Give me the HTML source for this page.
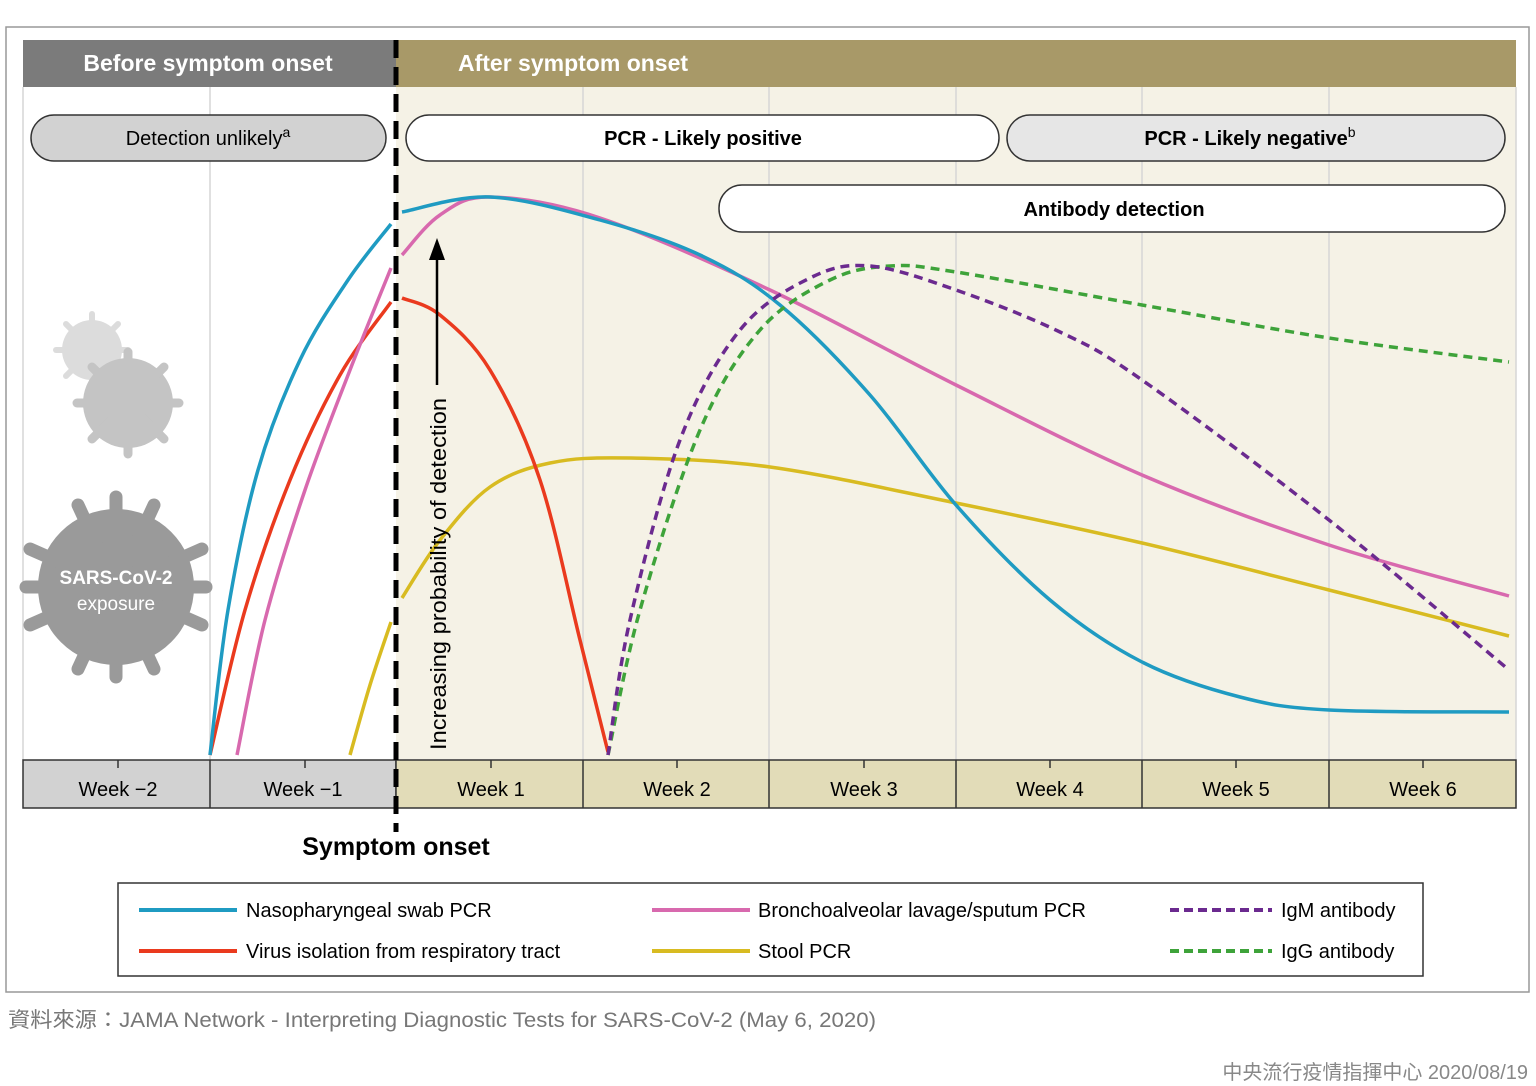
<!DOCTYPE html>
<html><head><meta charset="utf-8"><style>
body{margin:0;background:#fff;width:1536px;height:1086px;overflow:hidden}
svg{display:block}
text{font-family:"Liberation Sans","Noto Sans CJK TC",sans-serif}
</style></head><body>
<svg id="s" width="1536" height="1086" viewBox="0 0 1536 1086" xmlns="http://www.w3.org/2000/svg">
<rect x="6" y="27" width="1523" height="965" fill="#fff" stroke="#999" stroke-width="1.5"/>
<rect x="23" y="87" width="373" height="673" fill="#fff"/>
<rect x="396" y="87" width="1120" height="673" fill="#f5f2e6"/>
<g stroke="#d6d6d6" stroke-width="1.5">
<line x1="23" y1="87" x2="23" y2="760"/><line x1="210" y1="87" x2="210" y2="760"/>
<line x1="583" y1="87" x2="583" y2="760"/><line x1="769" y1="87" x2="769" y2="760"/>
<line x1="956" y1="87" x2="956" y2="760"/><line x1="1142" y1="87" x2="1142" y2="760"/>
<line x1="1329" y1="87" x2="1329" y2="760"/><line x1="1516" y1="87" x2="1516" y2="760"/>
</g>
<rect x="23" y="40" width="373" height="47" fill="#7b7b7b"/>
<rect x="396" y="40" width="1120" height="47" fill="#a89968"/>
<text x="208" y="71" font-size="23" font-weight="bold" fill="#fff" text-anchor="middle">Before symptom onset</text>
<text x="458" y="71" font-size="23" font-weight="bold" fill="#fff">After symptom onset</text>
<rect x="31" y="115" width="355" height="46" rx="23" fill="#d2d2d2" stroke="#333" stroke-width="1.5"/>
<text x="208" y="145" font-size="20" text-anchor="middle">Detection unlikely<tspan font-size="14" dy="-8">a</tspan></text>
<rect x="406" y="115" width="593" height="46" rx="23" fill="#fff" stroke="#333" stroke-width="1.5"/>
<text x="703" y="145" font-size="20" font-weight="bold" text-anchor="middle">PCR - Likely positive</text>
<rect x="1007" y="115" width="498" height="46" rx="23" fill="#e6e6e6" stroke="#333" stroke-width="1.5"/>
<text x="1250" y="145" font-size="20" font-weight="bold" text-anchor="middle">PCR - Likely negative<tspan font-size="14" font-weight="normal" dy="-8">b</tspan></text>
<rect x="719" y="185" width="786" height="47" rx="23" fill="#fff" stroke="#333" stroke-width="1.5"/>
<text x="1114" y="216" font-size="20" font-weight="bold" text-anchor="middle">Antibody detection</text>
<!-- viruses -->
<g fill="#dcdcdc"><circle cx="92" cy="350" r="30"/>
<g stroke="#dcdcdc" stroke-width="6" stroke-linecap="round"><line x1="92" y1="314" x2="92" y2="386"/><line x1="56" y1="350" x2="128" y2="350"/><line x1="66" y1="324" x2="118" y2="376"/><line x1="66" y1="376" x2="118" y2="324"/></g></g>
<g fill="#c4c4c4"><circle cx="128" cy="403" r="45"/>
<g stroke="#c4c4c4" stroke-width="9" stroke-linecap="round"><line x1="128" y1="352" x2="128" y2="454"/><line x1="77" y1="403" x2="179" y2="403"/><line x1="92" y1="367" x2="164" y2="439"/><line x1="92" y1="439" x2="164" y2="367"/></g></g>
<g fill="#9a9a9a"><circle cx="116" cy="587" r="78"/>
<g stroke="#9a9a9a" stroke-width="13" stroke-linecap="round"><line x1="116" y1="497" x2="116" y2="677"/><line x1="26" y1="587" x2="206" y2="587"/><line x1="78" y1="505" x2="154" y2="669"/><line x1="154" y1="505" x2="78" y2="669"/><line x1="30" y1="549" x2="202" y2="625"/><line x1="30" y1="625" x2="202" y2="549"/></g></g>
<text x="116" y="584" font-size="19" font-weight="bold" fill="#fff" text-anchor="middle">SARS-CoV-2</text>
<text x="116" y="610" font-size="19" fill="#fff" text-anchor="middle">exposure</text>
<g id="curves" fill="none" stroke-width="3.5"></g>
<!-- arrow -->
<line x1="437" y1="385" x2="437" y2="255" stroke="#000" stroke-width="2.5"/>
<polygon points="437,238 429,260 445,260" fill="#000"/>
<text transform="translate(446,750) rotate(-90)" font-size="22" textLength="352" lengthAdjust="spacingAndGlyphs">Increasing probability of detection</text>
<!-- axis -->
<rect x="23" y="760" width="373" height="48" fill="#d2d2d2" stroke="#333" stroke-width="1.5"/>
<rect x="396" y="760" width="1120" height="48" fill="#e2dcb8" stroke="#333" stroke-width="1.5"/>
<g stroke="#333" stroke-width="1.5"><line x1="210" y1="760" x2="210" y2="808"/><line x1="583" y1="760" x2="583" y2="808"/><line x1="769" y1="760" x2="769" y2="808"/><line x1="956" y1="760" x2="956" y2="808"/><line x1="1142" y1="760" x2="1142" y2="808"/><line x1="1329" y1="760" x2="1329" y2="808"/>
<line x1="118" y1="760" x2="118" y2="768"/><line x1="305" y1="760" x2="305" y2="768"/><line x1="491" y1="760" x2="491" y2="768"/><line x1="677" y1="760" x2="677" y2="768"/><line x1="864" y1="760" x2="864" y2="768"/><line x1="1050" y1="760" x2="1050" y2="768"/><line x1="1236" y1="760" x2="1236" y2="768"/><line x1="1423" y1="760" x2="1423" y2="768"/></g>
<g font-size="20" text-anchor="middle">
<text x="118" y="796">Week −2</text><text x="303" y="796">Week −1</text><text x="491" y="796">Week 1</text><text x="677" y="796">Week 2</text><text x="864" y="796">Week 3</text><text x="1050" y="796">Week 4</text><text x="1236" y="796">Week 5</text><text x="1423" y="796">Week 6</text></g>
<line x1="396" y1="40" x2="396" y2="832" stroke="#000" stroke-width="5" stroke-dasharray="18,9"/>
<text x="396" y="855" font-size="25" font-weight="bold" text-anchor="middle">Symptom onset</text>
<!-- legend -->
<rect x="118" y="883" width="1305" height="93" fill="#fff" stroke="#333" stroke-width="1.5"/>
<g stroke-width="4"><line x1="139" y1="910" x2="237" y2="910" stroke="#1f9bc2"/><line x1="139" y1="951" x2="237" y2="951" stroke="#ea3a1e"/>
<line x1="652" y1="910" x2="750" y2="910" stroke="#d869ae"/><line x1="652" y1="951" x2="750" y2="951" stroke="#d8bb21"/>
<line x1="1170" y1="910" x2="1272" y2="910" stroke="#6b2a8f" stroke-dasharray="9,5"/><line x1="1170" y1="951" x2="1272" y2="951" stroke="#3ea33a" stroke-dasharray="9,5"/></g>
<g font-size="20"><text x="246" y="917">Nasopharyngeal swab PCR</text><text x="246" y="958">Virus isolation from respiratory tract</text>
<text x="758" y="917">Bronchoalveolar lavage/sputum PCR</text><text x="758" y="958">Stool PCR</text>
<text x="1281" y="917">IgM antibody</text><text x="1281" y="958">IgG antibody</text></g>
<text x="8" y="1027" font-size="21" fill="#777" textLength="868" lengthAdjust="spacingAndGlyphs">資料來源：JAMA Network - Interpreting Diagnostic Tests for SARS-CoV-2 (May 6, 2020)</text>
<text x="1528" y="1079" font-size="20" fill="#888" text-anchor="end">中央流行疫情指揮中心 2020/08/19</text>
</svg>
<script>
function cr(p){var d="M"+p[0][0]+","+p[0][1];for(var i=0;i<p.length-1;i++){var a=p[i-1]||p[i],b=p[i],c=p[i+1],e=p[i+2]||c;
d+=" C"+(b[0]+(c[0]-a[0])/6)+","+(b[1]+(c[1]-a[1])/6)+" "+(c[0]-(e[0]-b[0])/6)+","+(c[1]-(e[1]-b[1])/6)+" "+c[0]+","+c[1];}return d;}
var S=[
["#d8bb21","",[[350,755],[370,685],[391,622]]],
["#d8bb21","",[[402,598],[440,540],[490,487],[550,463],[630,458],[770,467],[956,503],[1142,543],[1329,590],[1509,636]]],
["#ea3a1e","",[[210,755],[245,610],[290,480],[340,375],[391,302]]],
["#ea3a1e","",[[402,298],[440,315],[490,370],[540,480],[580,640],[608,752]]],
["#d869ae","",[[237,755],[265,620],[305,490],[350,370],[391,268]]],
["#d869ae","",[[402,255],[440,215],[490,197],[600,218],[770,290],[956,385],[1142,475],[1329,545],[1509,596]]],
["#1f9bc2","",[[210,755],[228,610],[258,470],[300,360],[348,280],[391,224]]],
["#1f9bc2","",[[402,212],[490,197],[600,220],[700,255],[780,305],[870,395],[956,505],[1050,600],[1142,662],[1240,697],[1329,710],[1509,712]]],
["#3ea33a","9,6",[[608,755],[640,610],[700,430],[760,330],[830,280],[890,266],[956,272],[1142,305],[1329,338],[1509,362]]],
["#6b2a8f","9,6",[[608,755],[630,620],[680,440],[740,330],[810,278],[870,266],[956,290],[1060,332],[1142,380],[1329,520],[1509,670]]]];
var g=document.getElementById("curves");
S.forEach(function(s){var p=document.createElementNS("http://www.w3.org/2000/svg","path");p.setAttribute("d",cr(s[2]));p.setAttribute("stroke",s[0]);if(s[1])p.setAttribute("stroke-dasharray",s[1]);g.appendChild(p);});
</script>
</body></html>
